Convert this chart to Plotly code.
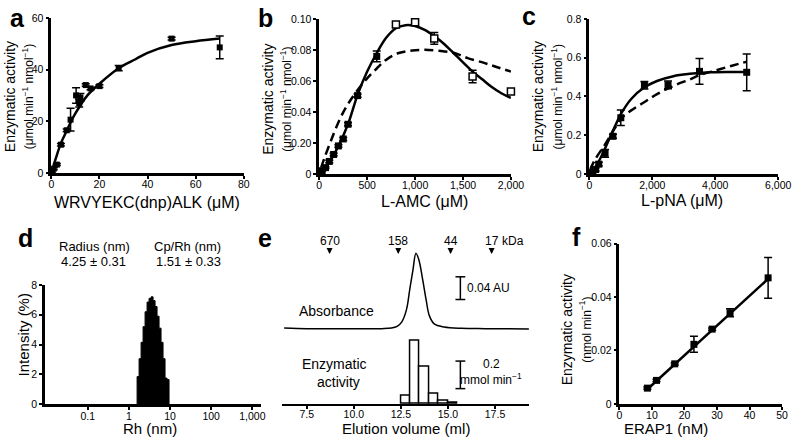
import plotly.graph_objects as go

W, H = 800, 442
FONT = "Liberation Sans, Arial, Helvetica, sans-serif"
TICK_FONT = "Liberation Sans Narrow, Liberation Sans, Arial, sans-serif"

# ---- a: WRVYEKC(dnp)ALK
A_X = [0.3, 1, 2.3, 4, 6.4, 8, 10.3, 11.6, 12.1, 14.3, 16.3, 20, 28, 50, 70]
A_Y = [0.4, 1.6, 3.2, 10.9, 16.5, 20.6, 30, 27, 29.2, 34, 32.7, 33.6, 40.6, 52, 48.6]
A_ERR = [0.4, 0.4, 0.4, 0.5, 0.5, 4.4, 3, 1.5, 1.5, 0.5, 0.5, 0.5, 1, 0.5, 4.4]
A_FIT_X = [0, 1, 2, 4, 6, 8, 10, 12, 15, 20, 28, 35, 40, 50, 60, 70]
A_FIT_Y = [0, 3, 6, 11.5, 15.5, 19.5, 23, 26, 30, 34.5, 40.5, 44, 46.5, 49.5, 51, 52]

# ---- b: L-AMC
B_FILLED_X = [10, 30, 65, 105, 150, 200, 250, 300, 400, 600]
B_FILLED_Y = [0.001, 0.002, 0.004, 0.008, 0.0125, 0.018, 0.0225, 0.032, 0.0505, 0.0758]
B_FILLED_ERR = [0.0005, 0.0005, 0.0005, 0.0008, 0.0008, 0.0008, 0.001, 0.001, 0.001, 0.0035]
B_OPEN_X = [800, 1000, 1200, 1600, 2000]
B_OPEN_Y = [0.0964, 0.0979, 0.0874, 0.0628, 0.0531]
B_OPEN_ERR = [0.0012, 0.0012, 0.0038, 0.004, 0.0012]
B_SOLID_X = [0, 100, 200, 300, 400, 500, 600, 700, 800, 900, 1000, 1100,
             1200, 1300, 1400, 1500, 1600, 1700, 1800, 1900, 2000]
B_SOLID_Y = [0, 0.007, 0.018, 0.032, 0.051, 0.066, 0.078, 0.088, 0.094, 0.096, 0.0955, 0.093,
             0.089, 0.084, 0.078, 0.072, 0.066, 0.061, 0.056, 0.052, 0.049]
B_DASH_X = [20, 50, 120, 220, 320, 490, 600, 700, 830, 970, 1140, 1310, 1410, 1550, 1720, 1850, 2000]
B_DASH_Y = [0.004, 0.0095, 0.021, 0.036, 0.047, 0.061, 0.068, 0.0737, 0.078, 0.0796, 0.080,
            0.079, 0.078, 0.0747, 0.0716, 0.069, 0.066]

# ---- c: L-pNA
C_X = [25, 100, 200, 300, 500, 750, 1000, 1750, 2500, 3500, 5000]
C_Y = [0.002, 0.006, 0.022, 0.05, 0.106, 0.194, 0.29, 0.458, 0.46, 0.53, 0.525]
C_ERR = [0.003, 0.003, 0.008, 0.01, 0.02, 0.01, 0.04, 0.02, 0.02, 0.067, 0.095]
C_SOLID_X = [0, 190, 390, 600, 810, 1010, 1330, 1740, 2150, 2670, 3190, 3810, 4430, 5000]
C_SOLID_Y = [0, 0.034, 0.093, 0.168, 0.244, 0.311, 0.387, 0.446, 0.48, 0.505, 0.517, 0.525, 0.527, 0.527]
C_DASH_X = [20, 190, 500, 810, 1010, 1330, 1740, 2150, 2670, 3190, 3500, 4020, 4530, 5000]
C_DASH_Y = [0.02, 0.076, 0.152, 0.236, 0.286, 0.328, 0.37, 0.412, 0.455, 0.488, 0.51, 0.535, 0.559, 0.58]

# ---- d: DLS size distribution (bin edges in nm, intensity %)
D_EDGES = [1.585, 1.772, 1.982, 2.216, 2.477, 2.770, 3.097, 3.463, 3.873,
           4.330, 4.842, 5.414, 6.053, 6.768, 7.568, 8.463, 9.462]
D_INTENSITY = [1.85, 3.05, 4.15, 5.2, 6.2, 6.85, 7.1, 7.2, 6.95, 6.55, 5.9, 5.1, 4.15, 3.05, 1.75, 1.65]

# ---- e: gel filtration
E_ABS_ML = [6.3, 7.5, 9.0, 10.5, 11.5, 12.0, 12.3, 12.55, 12.8, 12.97, 13.14, 13.3, 13.45,
            13.66, 13.84, 14.01, 14.27, 14.8, 15.7, 17.0, 19.3]
E_ABS_AU = [0.005, 0.004, 0.004, 0.004, 0.004, 0.005, 0.008, 0.016, 0.038, 0.073, 0.107, 0.137, 0.126,
            0.090, 0.055, 0.027, 0.0125, 0.007, 0.0046, 0.004, 0.0035]
E_FRAC_ML = [12.75, 13.25, 13.75, 14.25, 14.75, 15.25]
E_ACTIVITY = [0.059, 0.457, 0.269, 0.071, 0.024, 0.009]
E_MW_LABELS = ["670", "158", "44", "17"]
E_MW_ML = [8.71, 12.36, 15.14, 17.32]

# ---- f: ERAP1 titration
F_X = [8.6, 11.4, 17.0, 22.9, 28.5, 34.0, 45.7]
F_Y = [0.0059, 0.0088, 0.015, 0.0223, 0.028, 0.0341, 0.0472]
F_ERR = [0.0004, 0.0004, 0.0004, 0.003, 0.0004, 0.0015, 0.0076]
F_FIT_X = [8.6, 45.7]
F_FIT_Y = [0.0055, 0.0468]


def px(x):
    return x / W


def py(y):
    return 1 - y / H


def err(arr):
    return dict(type="data", array=arr, thickness=1.5, width=4, color="black")


SQ = dict(symbol="square", size=6, color="black")
fig = go.Figure()

# a
fig.add_trace(go.Scatter(x=A_FIT_X, y=A_FIT_Y, mode="lines", line=dict(color="black", width=2.5, shape="spline"),
                         xaxis="x", yaxis="y"))
fig.add_trace(go.Scatter(x=A_X, y=A_Y, mode="markers", marker=SQ, error_y=err(A_ERR),
                         cliponaxis=False, xaxis="x", yaxis="y"))
# b
fig.add_trace(go.Scatter(x=B_DASH_X, y=B_DASH_Y, mode="lines",
                         line=dict(color="black", width=2.5, dash="9px,5px", shape="spline"), xaxis="x2", yaxis="y2"))
fig.add_trace(go.Scatter(x=B_SOLID_X, y=B_SOLID_Y, mode="lines",
                         line=dict(color="black", width=2.5, shape="spline"), xaxis="x2", yaxis="y2"))
fig.add_trace(go.Scatter(x=B_FILLED_X, y=B_FILLED_Y, mode="markers", marker=dict(SQ, size=7),
                         error_y=err(B_FILLED_ERR), cliponaxis=False, xaxis="x2", yaxis="y2"))
fig.add_trace(go.Scatter(x=B_OPEN_X, y=B_OPEN_Y, mode="markers",
                         marker=dict(symbol="square", size=7, color="white", line=dict(color="black", width=1.5)),
                         error_y=err(B_OPEN_ERR), cliponaxis=False, xaxis="x2", yaxis="y2"))
# c
fig.add_trace(go.Scatter(x=C_DASH_X, y=C_DASH_Y, mode="lines",
                         line=dict(color="black", width=2.5, dash="9px,5px", shape="spline"), xaxis="x3", yaxis="y3"))
fig.add_trace(go.Scatter(x=C_SOLID_X, y=C_SOLID_Y, mode="lines",
                         line=dict(color="black", width=2.5, shape="spline"), xaxis="x3", yaxis="y3"))
fig.add_trace(go.Scatter(x=C_X, y=C_Y, mode="markers", marker=dict(SQ, size=7),
                         error_y=err(C_ERR), cliponaxis=False, xaxis="x3", yaxis="y3"))
# d
fig.add_trace(go.Scatter(x=[D_EDGES[0]] + D_EDGES, y=[0] + D_INTENSITY + [0], mode="lines",
                         line=dict(color="black", width=1, shape="hv"), fill="tozeroy", fillcolor="black",
                         xaxis="x4", yaxis="y4"))
# e
fig.add_trace(go.Scatter(x=E_ABS_ML, y=E_ABS_AU, mode="lines", line=dict(color="black", width=1.5, shape="spline"),
                         xaxis="x5", yaxis="y6"))
fig.add_trace(go.Bar(x=E_FRAC_ML, y=E_ACTIVITY, width=0.5, marker=dict(color="white", line=dict(color="black", width=1.5)),
                     xaxis="x5", yaxis="y5"))
fig.add_trace(go.Scatter(x=[15.66, 15.66], y=[0.0554, 0.0954], mode="lines+markers",
                         line=dict(color="black", width=1.5),
                         marker=dict(symbol="line-ew", size=7, line=dict(color="black", width=1.5)),
                         cliponaxis=False, xaxis="x5", yaxis="y6"))
fig.add_trace(go.Scatter(x=[15.66, 15.66], y=[0.111, 0.311], mode="lines+markers",
                         line=dict(color="black", width=1.5),
                         marker=dict(symbol="line-ew", size=7, line=dict(color="black", width=1.5)),
                         cliponaxis=False, xaxis="x5", yaxis="y5"))
# f
fig.add_trace(go.Scatter(x=F_FIT_X, y=F_FIT_Y, mode="lines", line=dict(color="black", width=2.5),
                         xaxis="x6", yaxis="y7"))
fig.add_trace(go.Scatter(x=F_X, y=F_Y, mode="markers", marker=dict(SQ, size=7),
                         error_y=err(F_ERR), cliponaxis=False, xaxis="x6", yaxis="y7"))

AX = dict(showline=True, linecolor="black", linewidth=2.5, ticks="outside", ticklen=3, tickwidth=2,
          tickcolor="black", showgrid=False, zeroline=False,
          tickfont=dict(size=10.5, family=TICK_FONT, color="black"))
XAX = dict(AX, ticklabelstandoff=-3)

fig.update_layout(
    width=W, height=H, margin=dict(l=0, r=0, t=0, b=0), showlegend=False,
    paper_bgcolor="white", plot_bgcolor="rgba(0,0,0,0)", font=dict(family=FONT, color="black"),
    bargap=0,
    xaxis=dict(XAX, domain=[px(49.3), px(245.7)], range=[0, 80], tickvals=[0, 20, 40, 60, 80], anchor="y"),
    yaxis=dict(AX, domain=[py(171.5), py(12.3)], range=[0, 60], tickvals=[0, 20, 40, 60], anchor="x"),
    xaxis2=dict(XAX, domain=[px(322.7), px(518.3)], range=[0, 2000], tickvals=[0, 500, 1000, 1500, 2000],
                ticktext=["0", "500", "1,000", "1,500", "2,000"], anchor="y2"),
    yaxis2=dict(AX, domain=[py(172.5), py(13.3)], range=[0, 0.10], tickvals=[0, 0.02, 0.04, 0.06, 0.08, 0.10],
                ticktext=["0", "0.20", "0.04", "0.06", "0.08", "0.10"], anchor="x2"),
    xaxis3=dict(XAX, domain=[px(598.3), px(791)], range=[0, 6000], tickvals=[0, 2000, 4000, 6000],
                ticktext=["0", "2,000", "4,000", "6,000"], anchor="y3"),
    yaxis3=dict(AX, domain=[py(172.5), py(13.5)], range=[0, 0.8], tickvals=[0, 0.2, 0.4, 0.6, 0.8],
                ticktext=["0", "0.2", "0.4", "0.6", "0.8"], anchor="x3"),
    xaxis4=dict(XAX, type="log", domain=[px(42.7), px(263.3)], range=[-2.04, 3.21],
                tickvals=[0.1, 1, 10, 100, 1000], ticktext=["0.1", "1", "10", "100", "1,000"], anchor="y4"),
    yaxis4=dict(AX, domain=[py(409.3), py(286.7)], range=[0, 8], tickvals=[0, 2, 4, 6, 8], anchor="x4"),
    xaxis5=dict(XAX, linewidth=2, domain=[px(285), px(537)], range=[6.2, 19.32],
                tickvals=[7.5, 10, 12.5, 15, 17.5], tickformat=".1f", anchor="y5"),
    yaxis5=dict(domain=[py(409), py(340)], range=[0, 0.4876], visible=False, anchor="x5"),
    yaxis6=dict(domain=[py(334), py(240.7)], range=[0, 0.16], visible=False, anchor="x5"),
    xaxis6=dict(XAX, domain=[px(629), px(795)], range=[0, 50], tickvals=[0, 10, 20, 30, 40, 50], anchor="y7"),
    yaxis7=dict(AX, domain=[py(409), py(244.3)], range=[0, 0.06], tickvals=[0, 0.02, 0.04, 0.06],
                ticktext=["0", "0.02", "0.04", "0.06"], anchor="x6"),
)

ann = []


def text(x, y, s, size=13, **kw):
    d = dict(x=px(x), y=py(y), xref="paper", yref="paper", text=s, showarrow=False,
             font=dict(size=size, family=FONT, color="black"), xanchor="center", yanchor="middle")
    d.update(kw)
    ann.append(d)


UNIT2 = "<span style='font-size:12px'>(μmol min<sup>−1</sup> nmol<sup>−1</sup>)</span>"
# panel letters
for lx, ly, s in [(15, 12, "a"), (268, 12, "b"), (537, 10, "c"), (23, 238, "d"), (267, 238, "e"), (585, 237, "f")]:
    text(lx, ly, f"<b>{s}</b>", size=25)
# axis titles
text(147, 202, "WRVYEKC(dnp)ALK (μM)", size=16)
text(430, 201, "L-AMC (μM)", size=16)
text(693, 200, "L-pNA (μM)", size=16)
text(150, 434, "Rh (nm)", size=15)
text(411, 434, "Elution volume (ml)", size=15)
text(677, 434, "ERAP1 (nM)", size=15)
text(17, 93, "Enzymatic activity<br>" + UNIT2, size=14, textangle=-90)
text(280, 96, "Enzymatic activity<br>" + UNIT2, size=14, textangle=-90)
text(556, 93, "Enzymatic activity<br>" + UNIT2, size=14, textangle=-90)
text(21, 338, "Intensity (%)", size=15, textangle=-90)
text(585, 333, "Enzymatic activity<br><span style='font-size:12px'>(nmol min<sup>−1</sup>)</span>",
     size=14, textangle=-90)
# d header
text(93, 247, "Radius (nm)", size=13)
text(92, 262.5, "4.25 ± 0.31", size=13)
text(188, 247, "Cp/Rh (nm)", size=13)
text(189, 262.5, "1.51 ± 0.33", size=13)
# e labels
text(340, 313, "Absorbance", size=14)
text(338, 368, "Enzymatic", size=14)
text(342, 386, "activity", size=14)
text(471, 290, "0.04 AU", size=12, xanchor="left")
text(498, 368, "0.2", size=12)
text(498, 383, "mmol min<sup>−1</sup>", size=12)
text(507, 242, "kDa", size=12, xanchor="left")
for lab, ml in zip(E_MW_LABELS, E_MW_ML):
    ann.append(dict(x=ml, y=py(242), xref="x5", yref="paper", text=lab, showarrow=False,
                    font=dict(size=12, family=FONT, color="black"), xanchor="center", yanchor="middle"))
    ann.append(dict(x=ml, y=py(255), xref="x5", yref="paper", ax=0, ay=-6, text="", showarrow=True,
                    arrowhead=2, arrowsize=0.8, arrowwidth=1.5, arrowcolor="black"))

fig.update_layout(annotations=ann)
# page body margin would push the fixed-size figure 8px off the window
fig.write_html("out.html", config={"displayModeBar": False},
               post_script="document.body.style.margin='0';")
